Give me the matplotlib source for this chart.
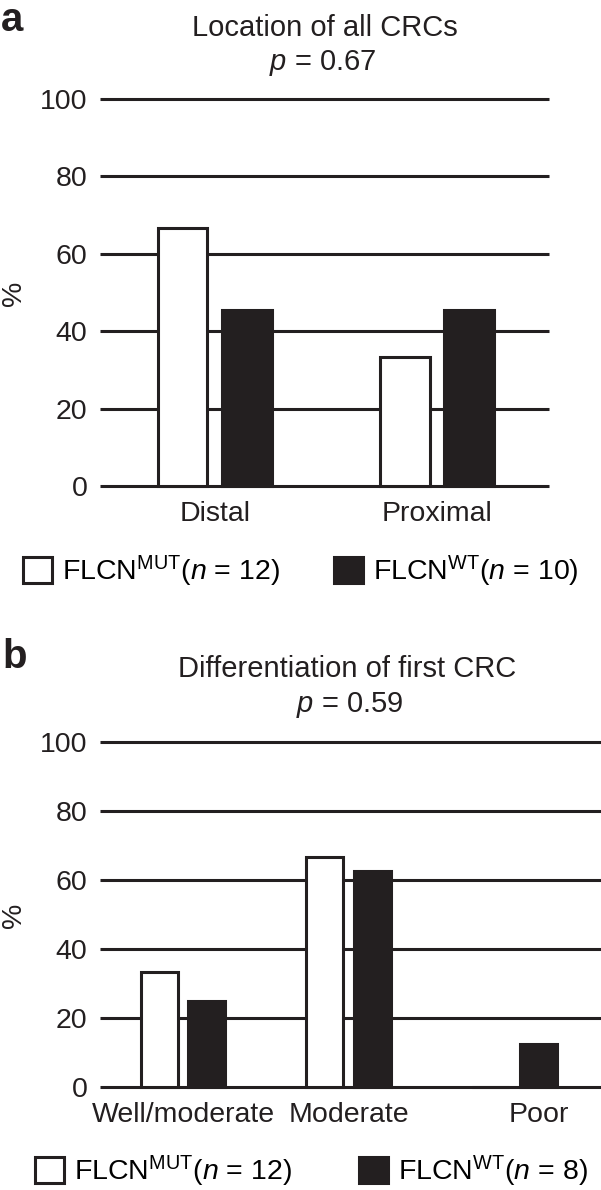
import matplotlib
matplotlib.use("Agg")
import matplotlib.pyplot as plt
import numpy as np

plt.rcParams['font.family'] = ['Liberation Sans', 'DejaVu Sans']
plt.rcParams['mathtext.fontset'] = 'custom'
plt.rcParams['mathtext.rm'] = 'Liberation Sans'
plt.rcParams['mathtext.it'] = 'Liberation Sans:italic'
plt.rcParams['mathtext.bf'] = 'Liberation Sans:bold'

# ---- data ----
loc_categories = ['Distal', 'Proximal']
loc_mut = [66.7, 33.3]
loc_wt = [45.5, 45.5]
loc_title = 'Location of all CRCs'
loc_p = r'$p$ = 0.67'
loc_labels = [r'FLCN$^{\mathrm{MUT}}$($n$ = 12)', r'FLCN$^{\mathrm{WT}}$($n$ = 10)']

diff_categories = ['Well/moderate', 'Moderate', 'Poor']
diff_mut = [33.3, 66.7, 0.0]
diff_wt = [25.0, 62.5, 12.5]
diff_title = 'Differentiation of first CRC'
diff_p = r'$p$ = 0.59'
diff_labels = [r'FLCN$^{\mathrm{MUT}}$($n$ = 12)', r'FLCN$^{\mathrm{WT}}$($n$ = 8)']

yticks = [0, 20, 40, 60, 80, 100]

# ---- style ----
W, H = 601, 1190
DARK = '#231f20'
FS = 20.5
LW = 2.2
BAR_W = 0.223
OFF = 0.144

fig = plt.figure(figsize=(W / 100, H / 100), dpi=100)


def px_axes(left, top, right, bottom):
    return fig.add_axes([left / W, 1 - bottom / H, (right - left) / W, (bottom - top) / H])


def panel(ax, cats, mut, wt, labels, xlim, leg_xy, colsp):
    x = np.arange(len(cats))
    mut = np.asarray(mut)
    b1 = ax.bar(x - OFF, mut, BAR_W, facecolor='white', edgecolor=DARK,
                linewidth=LW, zorder=3)
    b2 = ax.bar(x + OFF, wt, BAR_W, facecolor=DARK, edgecolor=DARK,
                linewidth=LW, zorder=3)
    for p in list(b1) + list(b2):
        p.set_clip_on(False)
    ax.set_ylim(0, 100)
    ax.set_xlim(*xlim)
    ax.set_yticks(yticks)
    ticks = np.where(mut == 0, x + OFF, x)
    ax.set_xticks(ticks)
    ax.set_xticklabels(cats)
    ax.grid(axis='y', color=DARK, linewidth=LW)
    ax.grid(axis='x', visible=False)
    ax.set_axisbelow(True)
    for gl in ax.get_ygridlines():
        gl.set_clip_on(False)
        gl.set_solid_capstyle('butt')
    for s in ax.spines.values():
        s.set_visible(False)
    ax.tick_params(axis='both', length=0, labelsize=FS, colors=DARK)
    ax.tick_params(axis='y', pad=9)
    ax.tick_params(axis='x', pad=11)
    ax.legend(handles=[b1, b2], labels=labels, ncol=2, loc='center left',
              bbox_to_anchor=(leg_xy[0] / W, 1 - leg_xy[1] / H),
              bbox_transform=fig.transFigure, frameon=False, borderpad=0,
              borderaxespad=0, handlelength=1.02, handleheight=1.0,
              handletextpad=0.35, columnspacing=colsp, fontsize=FS)


axA = px_axes(100, 99, 549, 486)
panel(axA, loc_categories, loc_mut, loc_wt, loc_labels, (-0.515, 1.502), (23, 571), 1.9)

axB = px_axes(100, 742, 601, 1087)
panel(axB, diff_categories, diff_mut, diff_wt, diff_labels, (-0.50, 2.52), (35, 1171), 2.35)

# titles
fig.text(325 / W, 1 - 36 / H, loc_title, ha='center', va='baseline', fontsize=FS + 0.5, color=DARK)
fig.text(323 / W, 1 - 70.5 / H, loc_p, ha='center', va='baseline', fontsize=FS + 0.5, color=DARK)
fig.text(347 / W, 1 - 677 / H, diff_title, ha='center', va='baseline', fontsize=FS + 0.5, color=DARK)
fig.text(349 / W, 1 - 712 / H, diff_p, ha='center', va='baseline', fontsize=FS + 0.5, color=DARK)

# y labels
fig.text(14 / W, 1 - 293 / H, '%', rotation=90, ha='center', va='center', fontsize=FS, color=DARK)
fig.text(14 / W, 1 - 915 / H, '%', rotation=90, ha='center', va='center', fontsize=FS, color=DARK)

# panel letters
fig.text(1 / W, 1 - 1 / H, 'a', ha='left', va='top', fontsize=29, fontweight='bold', color=DARK)
fig.text(2 / W, 1 - 668 / H, 'b', ha='left', va='baseline', fontsize=29, fontweight='bold', color=DARK)

fig.savefig('out.png', dpi=100)
